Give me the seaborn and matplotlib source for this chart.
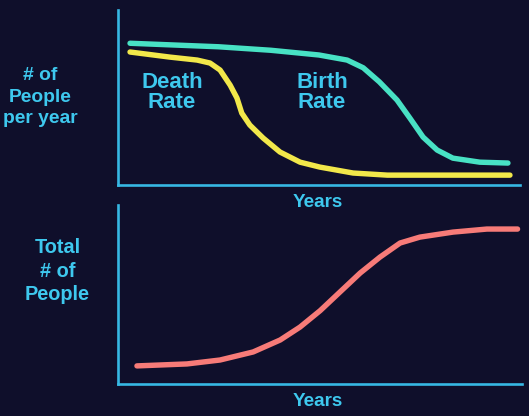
import matplotlib
matplotlib.use("Agg")
import matplotlib.pyplot as plt
import seaborn as sns
import pandas as pd

# Demographic transition: rates per year (top) and total population (bottom)
years_birth = [3, 25, 38, 50, 57, 61, 65, 69.4, 72.6, 75.9, 79.4, 83.3, 90, 97]
birth_rate = [81, 79, 77, 74.3, 71.4, 67, 59, 48.6, 38.3, 27.4, 20, 15.4, 13.1, 12.6]

years_death = [3, 12.9, 19.7, 22.9, 25.4, 27.9, 29.6, 30.8, 32.8, 36.1, 40.3,
               45.3, 50.2, 58.5, 67, 97.5]
death_rate = [76, 73.1, 71.4, 69.7, 65.7, 57.1, 49.7, 41.1, 34.3, 26.9, 18.9,
              13.1, 10.3, 6.9, 5.7, 5.7]

years_total = [4.7, 17.1, 25.3, 33.5, 40.2, 45.1, 50.1, 55, 60, 64.9, 69.9,
               74.8, 83, 91.4, 99]
total_people = [10.1, 11.2, 13.4, 17.9, 24.6, 31.8, 41, 51.4, 62, 70.9, 78.8,
                82.1, 84.9, 86.6, 86.6]

BG = "#0f0f2b"
CYAN = "#3ec8ee"
AXIS = "#36b8e4"
TEAL = "#48e2c4"
YELLOW = "#f2e84a"
SALMON = "#f77b78"

sns.set_theme(style="white")
plt.rcParams["font.family"] = ["Liberation Sans", "DejaVu Sans"]

fig = plt.figure(figsize=(5.29, 4.16), dpi=100, facecolor=BG)
ax1 = fig.add_axes([0.223, 0.555, 0.760, 0.421])
ax2 = fig.add_axes([0.223, 0.077, 0.763, 0.430])

rates = pd.concat([
    pd.DataFrame({"year": years_birth, "value": birth_rate, "series": "Birth"}),
    pd.DataFrame({"year": years_death, "value": death_rate, "series": "Death"}),
])
sns.lineplot(data=rates, x="year", y="value", hue="series",
             palette={"Birth": TEAL, "Death": YELLOW}, linewidth=3.9,
             legend=False, ax=ax1, solid_capstyle="round", solid_joinstyle="round")

totals = pd.DataFrame({"year": years_total, "value": total_people})
sns.lineplot(data=totals, x="year", y="value", color=SALMON, linewidth=3.9,
             ax=ax2, solid_capstyle="round", solid_joinstyle="round")

for ax in (ax1, ax2):
    ax.set_facecolor(BG)
    ax.set_xlim(0, 100)
    ax.set_ylim(0, 100)
    ax.set_xticks([])
    ax.set_yticks([])
    ax.set_xlabel("")
    ax.set_ylabel("")
    for side in ("top", "right"):
        ax.spines[side].set_visible(False)
    for side in ("left", "bottom"):
        ax.spines[side].set_color(AXIS)
        ax.spines[side].set_linewidth(1.9)

txt = dict(color=CYAN, fontweight="bold", ha="center", va="center")

fig.text(172 / 529, 1 - 92.5 / 416, "Death\nRate", fontsize=16, linespacing=0.9, **txt)
fig.text(322 / 529, 1 - 92.5 / 416, "Birth\nRate", fontsize=16, linespacing=0.9, **txt)

fig.text(40 / 529, 1 - 97 / 416, "# of\nPeople\nper year", fontsize=13.9,
         linespacing=1.38, **txt)
fig.text(57.5 / 529, 1 - 271.5 / 416, "Total\n# of\nPeople", fontsize=14.3,
         linespacing=1.3, **txt)
fig.text(318 / 529, 1 - 202 / 416, "Years", fontsize=13.6, **txt)
fig.text(318 / 529, 1 - 402 / 416, "Years", fontsize=13.6, **txt)

fig.savefig("out.png", dpi=100, facecolor=BG)
